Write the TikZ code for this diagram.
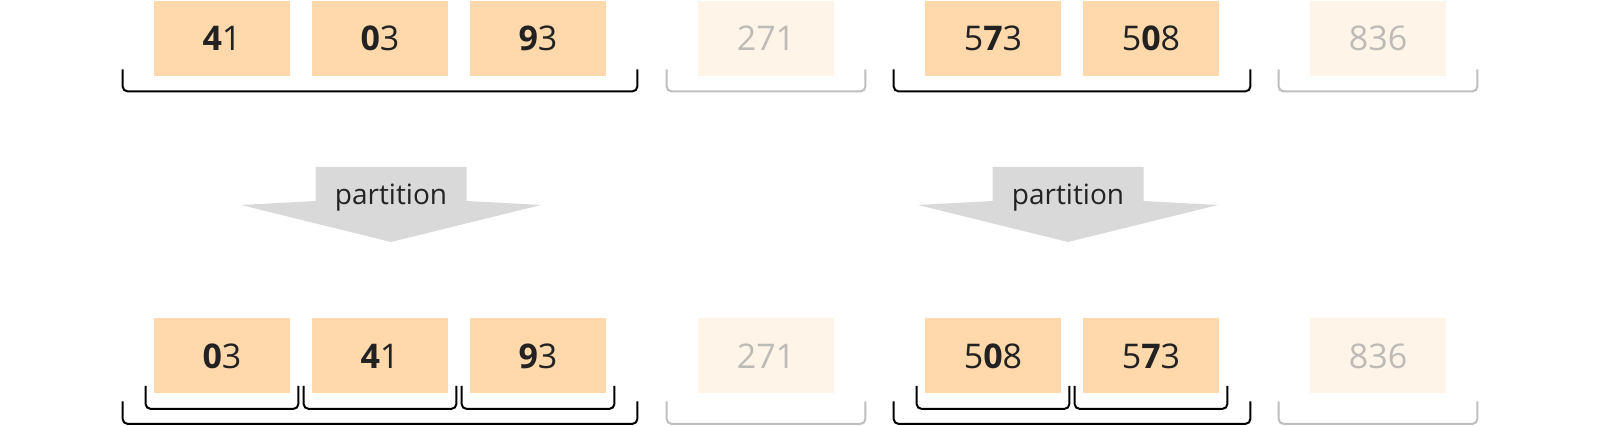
\documentclass[tikz,border=0pt]{standalone}
\usepackage{fontspec}
\setmainfont{Open Sans}
\usetikzlibrary{calc}
\definecolor{colBox}{RGB}{255,217,171}
\definecolor{colFade}{RGB}{255,244,232}
\definecolor{colFadeTxt}{RGB}{190,187,183}
\definecolor{colTxt}{RGB}{34,34,34}
\definecolor{colArrow}{RGB}{217,217,217}
\definecolor{colGrp}{RGB}{190,190,190}

\tikzset{
    numbox/.style={fill=colBox, text=colTxt, minimum width=68pt, minimum height=37.5pt,
        inner sep=0pt, font=\fontsize{17}{20}\selectfont},
    fadebox/.style={numbox, fill=colFade, text=colFadeTxt},
    grp/.style={line width=1pt, rounded corners=2.5pt, draw=black},
    fadegrp/.style={grp, draw=colGrp},
    lbl/.style={text=colTxt, inner sep=0pt, font=\fontsize{14}{17}\selectfont}
}

% bracket under #2..#3, side overhang #4, top/bottom y offset #5/#6
\newcommand{\bracket}[6][grp]{%
    \draw[#1] ($(#2.south west)+(-#4,#5)$) -- ($(#2.south west)+(-#4,#6)$)
        -- ($(#3.south east)+(#4,#6)$) -- ($(#3.south east)+(#4,#5)$);}

\begin{document}
\begin{tikzpicture}[x=0.5pt, y=-0.5pt]
    \useasboundingbox (0,0) rectangle (1600,426);

    % baris atas
    \node[numbox] (t41) at (222,38.5) {\textbf{4}1};
    \node[numbox] (t03) at (380,38.5) {\textbf{0}3};
    \node[numbox] (t93) at (538,38.5) {\textbf{9}3};
    \node[fadebox] (t271) at (766,38.5) {271};
    \node[numbox] (t573) at (993,38.5) {5\textbf{7}3};
    \node[numbox] (t508) at (1151,38.5) {5\textbf{0}8};
    \node[fadebox] (t836) at (1378,38.5) {836};

    \bracket{t41}{t93}{31}{-7}{15}
    \bracket[fadegrp]{t271}{t271}{31}{-7}{15}
    \bracket{t573}{t508}{31}{-7}{15}
    \bracket[fadegrp]{t836}{t836}{31}{-7}{15}

    % panah partition
    \foreach \ax/\nm in {391/pl, 1068/pr} {
        \fill[colArrow] (\ax-75.5,167) -- (\ax+75.5,167) -- (\ax+75.5,201) -- (\ax+150,205)
            -- (\ax,242) -- (\ax-150,205) -- (\ax-75.5,201) -- cycle;
        \node[lbl, anchor=base] (\nm) at (\ax,205) {partition};
    }

    % baris bawah
    \node[numbox] (b03) at (222,356) {\textbf{0}3};
    \node[numbox] (b41) at (380,356) {\textbf{4}1};
    \node[numbox] (b93) at (538,356) {\textbf{9}3};
    \node[fadebox] (b271) at (766,356) {271};
    \node[numbox] (b508) at (993,356) {5\textbf{0}8};
    \node[numbox] (b573) at (1151,356) {5\textbf{7}3};
    \node[fadebox] (b836) at (1378,356) {836};

    \foreach \n in {b03, b41, b93, b508, b573} {
        \bracket{\n}{\n}{8}{-8}{15}
    }
    \bracket{b03}{b93}{31}{7.5}{30}
    \bracket[fadegrp]{b271}{b271}{31}{7.5}{30}
    \bracket{b508}{b573}{31}{7.5}{30}
    \bracket[fadegrp]{b836}{b836}{31}{7.5}{30}
\end{tikzpicture}
\end{document}
